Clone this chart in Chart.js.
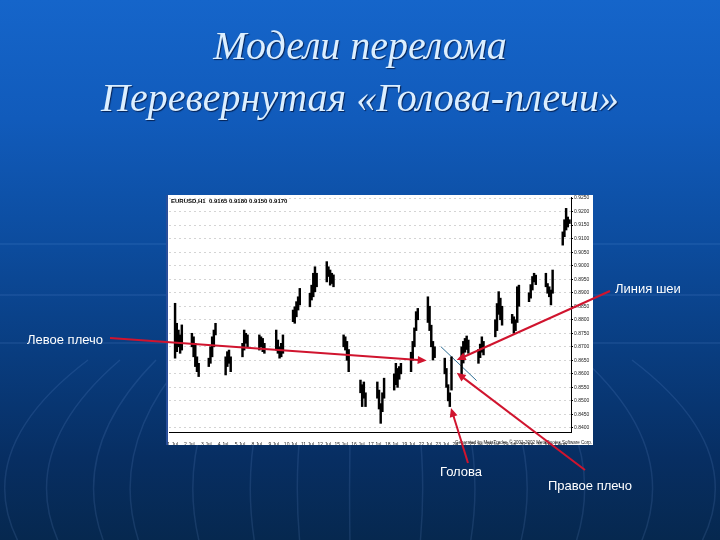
<!DOCTYPE html>
<html><head><meta charset="utf-8">
<script src="https://cdn.jsdelivr.net/npm/chart.js@4.4.1/dist/chart.umd.min.js"></script>
<style>
html,body{margin:0;padding:0;width:720px;height:540px;overflow:hidden;}
body{background:linear-gradient(to bottom,#1565ca 0%,#115bbb 22%,#0c4c9e 45%,#093d80 65%,#072e62 85%,#06284f 100%);position:relative;font-family:"Liberation Sans",Arial,sans-serif;}
#wrap{position:absolute;left:0;top:0;width:720px;height:540px;}
.title{position:absolute;left:0;width:720px;text-align:center;font-family:"Liberation Serif","Times New Roman",serif;font-style:italic;font-size:40px;color:#dcefff;text-shadow:1px 1px 1px rgba(0,10,40,0.7);line-height:52px;}
.lbl{position:absolute;color:#fff;font-size:13px;line-height:16px;white-space:nowrap;}
</style></head><body>
<div id="wrap"><canvas id="c" width="720" height="540"></canvas></div>
<div class="title" style="top:20px">Модели перелома<br>Перевернутая «Голова-плечи»</div>
<div class="lbl" style="left:27px;top:332px">Левое плечо</div>
<div class="lbl" style="left:615px;top:281px">Линия шеи</div>
<div class="lbl" style="left:440px;top:464px">Голова</div>
<div class="lbl" style="left:548px;top:478px">Правое плечо</div>
<script>
// ---- data ----
const dayLabels = ["1 Jul","2 Jul","3 Jul","4 Jul","5 Jul","8 Jul","9 Jul","10 Jul","11 Jul","12 Jul","15 Jul","16 Jul",
                   "17 Jul","18 Jul","19 Jul","22 Jul","23 Jul","24 Jul","25 Jul","26 Jul","29 Jul","30 Jul","31 Jul","1 Aug"];
const priceTicks = [0.8400,0.8450,0.8500,0.8550,0.8600,0.8650,0.8700,0.8750,0.8800,0.8850,0.8900,0.8950,0.9000,0.9050,0.9100,0.9150,0.9200,0.9250];
const lows = [
  [0.8658,0.8682,0.8700,0.8676,0.8688],
  [0.8700,0.8663,0.8627,0.8608,0.8590],
  [0.8627,0.8639,0.8663,0.8700,0.8744],
  [0.8596,0.8627,0.8639,0.8608],
  [0.8663,0.8688,0.8713,0.8700],
  [0.8688,0.8700,0.8682,0.8676],
  [0.8688,0.8676,0.8658,0.8663,0.8676],
  [0.8793,0.8787,0.8811,0.8836,0.8855],
  [0.8848,0.8873,0.8885,0.8904,0.8922],
  [0.8940,0.8960,0.8928,0.8934,0.8922],
  [0.8700,0.8688,0.8650,0.8608],
  [0.8530,0.8479,0.8510,0.8479],
  [0.8510,0.8470,0.8417,0.8460,0.8510],
  [0.8540,0.8560,0.8550,0.8580,0.8600],
  [0.8608,0.8650,0.8700,0.8760,0.8800],
  [0.8790,0.8760,0.8700,0.8651,0.8660],
  [0.8600,0.8550,0.8500,0.8479,0.8540],
  [0.8596,0.8640,0.8680,0.8690,0.8676],
  [0.8639,0.8660,0.8680,0.8670],
  [0.8737,0.8760,0.8820,0.8800,0.8780],
  [0.8787,0.8750,0.8760,0.8790,0.8850],
  [0.8867,0.8880,0.8910,0.8940,0.8930],
  [0.8922,0.8898,0.8885,0.8855,0.8898],
  [0.9076,0.9107,0.9132,0.9143,0.9156]
];
const highs = [
  [0.8861,0.8787,0.8762,0.8744,0.8781],
  [0.8750,0.8737,0.8713,0.8663,0.8639],
  [0.8658,0.8700,0.8737,0.8762,0.8787],
  [0.8663,0.8682,0.8688,0.8663],
  [0.8713,0.8762,0.8750,0.8744],
  [0.8744,0.8737,0.8731,0.8713],
  [0.8762,0.8725,0.8700,0.8713,0.8744],
  [0.8836,0.8848,0.8867,0.8885,0.8916],
  [0.8898,0.8928,0.8972,0.8996,0.8972],
  [0.9015,0.8996,0.8984,0.8972,0.8966],
  [0.8744,0.8737,0.8720,0.8690],
  [0.8577,0.8560,0.8570,0.8530],
  [0.8570,0.8540,0.8490,0.8530,0.8584],
  [0.8600,0.8639,0.8620,0.8627,0.8639],
  [0.8680,0.8720,0.8770,0.8830,0.8842],
  [0.8885,0.8850,0.8780,0.8720,0.8700],
  [0.8658,0.8620,0.8560,0.8530,0.8663],
  [0.8700,0.8720,0.8731,0.8740,0.8725],
  [0.8690,0.8710,0.8737,0.8720],
  [0.8800,0.8860,0.8904,0.8880,0.8850],
  [0.8820,0.8811,0.8800,0.8922,0.8928],
  [0.8900,0.8930,0.8960,0.8972,0.8965],
  [0.8972,0.8934,0.8922,0.8910,0.8984],
  [0.9125,0.9170,0.9212,0.9180,0.9170]
];
const necklineX = [15.93, 18.04];
const necklineY = [0.8700, 0.8575];
// annotation arrow tips (data coords) and their label-side starting points
const arrowTipX = [15.08, 16.86, 16.86, 16.52];
const arrowTipY = [0.8649, 0.8651, 0.8604, 0.8474];
const arrowFrom = [[110,338],[610,291],[585,470],[468,463]];

// ---- build ----
const barStart = 0.15, barStep = 0.1;
const barData = [];
lows.forEach((dl, d) => dl.forEach((lo, k) => barData.push({x: d + barStart + k * barStep, y: [lo, highs[d][k]]})));
const neckData = necklineX.map((x, i) => ({x: x, y: necklineY[i]}));

const deco = {
  id: 'deco',
  beforeDraw(chart) {
    const ctx = chart.ctx, ca = chart.chartArea;
    ctx.save();
    // faint background decoration
    ctx.strokeStyle = 'rgba(150,190,255,0.12)';
    ctx.lineWidth = 1.5;
    [244, 295, 343].forEach(y => { ctx.beginPath(); ctx.moveTo(0, y); ctx.lineTo(720, y); ctx.stroke(); });
    [20, 60, 105, 140, 200, 255, 300, 350, 420, 470, 520, 575, 640, 700].forEach(bx => {
      ctx.beginPath();
      ctx.moveTo(bx, 545);
      ctx.quadraticCurveTo(bx + (bx - 360) * 0.15, 450, 360 + (bx - 360) * 0.8, 360);
      ctx.stroke();
    });
    // white chart panel
    ctx.fillStyle = '#ffffff';
    ctx.fillRect(ca.left - 3, ca.top - 2, (ca.right + 22) - (ca.left - 3), (ca.bottom + 13) - (ca.top - 2));
    ctx.fillStyle = '#2a4f9a';
    ctx.fillRect(ca.left - 3, ca.top - 2, 2, (ca.bottom + 13) - (ca.top - 2));
    ctx.restore();
  },
  afterDraw(chart) {
    const ctx = chart.ctx, ca = chart.chartArea;
    const xs = chart.scales.x, ys = chart.scales.y;
    ctx.save();
    ctx.fillStyle = '#000';
    ctx.font = 'bold 6px "Liberation Sans", Arial';
    ctx.textBaseline = 'middle';
    ctx.fillText('EURUSD,H1  0.9165 0.9180 0.9150 0.9170', ca.left + 2, ca.top + 4);
    ctx.font = '4.5px "Liberation Sans", Arial';
    ctx.textAlign = 'right';
    ctx.fillStyle = '#222';
    ctx.fillText('Generated by MetaTrader, \u00A9 2001-2002 MetaQuotes Software Corp.', ca.right + 21, ca.bottom + 11);
    // arrows
    ctx.strokeStyle = '#d0142e';
    ctx.fillStyle = '#d0142e';
    ctx.lineWidth = 2;
    arrowTipX.forEach((tx0, i) => {
      const tx = xs.getPixelForValue(tx0), ty = ys.getPixelForValue(arrowTipY[i]);
      const sx = arrowFrom[i][0], sy = arrowFrom[i][1];
      const a = Math.atan2(ty - sy, tx - sx);
      const L = 9, W = 4;
      ctx.beginPath();
      ctx.moveTo(sx, sy);
      ctx.lineTo(tx - Math.cos(a) * (L - 1), ty - Math.sin(a) * (L - 1));
      ctx.stroke();
      ctx.beginPath();
      ctx.moveTo(tx, ty);
      ctx.lineTo(tx - Math.cos(a) * L - Math.sin(a) * W, ty - Math.sin(a) * L + Math.cos(a) * W);
      ctx.lineTo(tx - Math.cos(a) * L + Math.sin(a) * W, ty - Math.sin(a) * L - Math.cos(a) * W);
      ctx.closePath();
      ctx.fill();
    });
    ctx.restore();
  }
};

new Chart(document.getElementById('c'), {
  type: 'bar',
  data: {
    datasets: [
      {type: 'bar', data: barData, backgroundColor: '#000', borderWidth: 0, barThickness: 1.8, grouped: false},
      {type: 'line', data: neckData, borderColor: '#2f6f95', borderWidth: 1, pointRadius: 0}
    ]
  },
  options: {
    responsive: false,
    animation: false,
    devicePixelRatio: 1,
    layout: {padding: {left: 169, top: 197, right: 127, bottom: 95}},
    plugins: {legend: {display: false}, tooltip: {enabled: false}, title: {display: false}},
    scales: {
      x: {
        type: 'linear', min: -0.21, max: 23.64, offset: false,
        grid: {display: false},
        border: {display: true, color: '#000', width: 1},
        afterBuildTicks: s => { s.ticks = dayLabels.map((_, i) => ({value: i})); },
        afterFit: s => { s.height = 13; },
        ticks: {autoSkip: false, maxRotation: 0, padding: 2, color: '#222', font: {size: 5, family: '"Liberation Sans", Arial'},
                callback: (v, i) => dayLabels[i]}
      },
      y: {
        position: 'right', min: 0.8385, max: 0.9254,
        afterBuildTicks: s => { s.ticks = priceTicks.map(v => ({value: v})); },
        afterFit: s => { s.width = 22; },
        grid: {color: '#d4d4d4', lineWidth: 1, tickLength: 2, tickColor: '#000'},
        border: {display: true, color: '#000', width: 1, dash: [2, 3]},
        ticks: {autoSkip: false, padding: 1, color: '#222', font: {size: 5, family: '"Liberation Sans", Arial'},
                callback: v => v.toFixed(4)}
      }
    }
  },
  plugins: [deco]
});
</script>
</body></html>
